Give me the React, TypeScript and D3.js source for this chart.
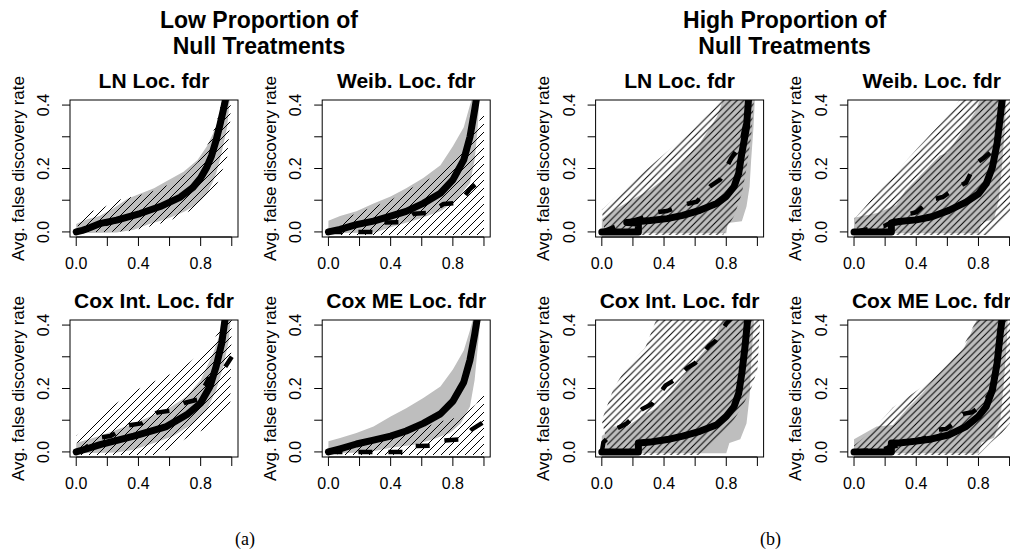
import React from 'react';
import * as d3 from 'd3';

type Pt = [number, number];

// ---------- text ----------
const groupTitles = [
  ['Low Proportion of', 'Null Treatments'],
  ['High Proportion of', 'Null Treatments'],
];
const groupCaptions = ['(a)', '(b)'];
const panelTitles = ['LN Loc. fdr', 'Weib. Loc. fdr', 'Cox Int. Loc. fdr', 'Cox ME Loc. fdr'];
const yAxisTitle = 'Avg. false discovery rate';
const xTicks = [0, 0.2, 0.4, 0.6, 0.8, 1.0];
const xTickLabels = ['0.0', '', '0.4', '', '0.8', ''];
const yTicks = [0, 0.1, 0.2, 0.3, 0.4];
const yTickLabels = ['0.0', '', '0.2', '', '0.4'];

// ---------- (a) low proportion ----------
const lnLowGrayHi: Pt[] = [[0, 0.025], [0.07, 0.04], [0.15, 0.05], [0.24, 0.075], [0.33, 0.105], [0.41, 0.12], [0.5, 0.138], [0.58, 0.16], [0.69, 0.19], [0.78, 0.227], [0.84, 0.27], [0.88, 0.31], [0.925, 0.365], [0.96, 0.43]];
const lnLowGrayLo: Pt[] = [[0, -0.004], [0.26, -0.002], [0.37, 0.007], [0.47, 0.025], [0.56, 0.038], [0.63, 0.05], [0.7, 0.065], [0.75, 0.08], [0.8, 0.1], [0.84, 0.12], [0.88, 0.16], [0.9, 0.185], [0.935, 0.25], [0.97, 0.33], [0.99, 0.43]];
const lnLowHatchHi: Pt[] = [[0.01, 0.03], [0.08, 0.065], [0.15, 0.07], [0.26, 0.1], [0.4, 0.115], [0.5, 0.13], [0.6, 0.15], [0.7, 0.18], [0.78, 0.22], [0.85, 0.28], [0.9, 0.34], [0.93, 0.4], [0.95, 0.43]];
const lnLowHatchLo: Pt[] = [[0.01, 0], [0.2, 0], [0.35, 0.003], [0.5, 0.02], [0.6, 0.035], [0.7, 0.06], [0.8, 0.08], [0.88, 0.12], [0.925, 0.175], [0.97, 0.235], [0.99, 0.35], [0.995, 0.43]];
const lnLowLine: Pt[] = [[0, 0], [0.04, 0.005], [0.07, 0.01], [0.15, 0.026], [0.26, 0.037], [0.41, 0.058], [0.54, 0.08], [0.67, 0.11], [0.75, 0.14], [0.8, 0.17], [0.84, 0.205], [0.87, 0.24], [0.9, 0.29], [0.925, 0.34], [0.946, 0.385], [0.965, 0.43]];
const lnLowDash: Pt[] = [[0, 0], [0.1, 0.013], [0.3, 0.041], [0.5, 0.072], [0.7, 0.118], [0.8, 0.168], [0.87, 0.238], [0.92, 0.33], [0.96, 0.43]];

const weibLowGrayHi: Pt[] = [[0, 0.035], [0.075, 0.05], [0.18, 0.065], [0.29, 0.09], [0.4, 0.112], [0.5, 0.138], [0.61, 0.17], [0.72, 0.21], [0.8, 0.27], [0.87, 0.33], [0.91, 0.4], [0.93, 0.43]];
const weibLowGrayLo: Pt[] = [[0, -0.004], [0.3, -0.002], [0.4, 0.015], [0.57, 0.039], [0.72, 0.065], [0.82, 0.1], [0.91, 0.154], [0.94, 0.227], [0.96, 0.33], [0.97, 0.43]];
const weibLowHatchHi: Pt[] = [[0.05, 0.01], [0.07, 0.03], [0.14, 0.05], [0.29, 0.08], [0.4, 0.1], [0.5, 0.13], [0.6, 0.155], [0.7, 0.18], [0.8, 0.22], [0.9, 0.28], [0.95, 0.33], [1.0, 0.38], [1.0, 0.43]];
const weibLowHatchLo: Pt[] = [[0.05, -0.01], [1.0, -0.01]];
const weibLowLine: Pt[] = [[0, 0], [0.075, 0.008], [0.18, 0.023], [0.29, 0.034], [0.4, 0.05], [0.5, 0.065], [0.61, 0.09], [0.72, 0.122], [0.8, 0.164], [0.87, 0.227], [0.91, 0.3], [0.94, 0.384], [0.955, 0.43]];
const weibLowDash: Pt[] = [[0, 0], [0.3, 0], [0.36, 0.03], [0.47, 0.031], [0.55, 0.057], [0.65, 0.06], [0.74, 0.088], [0.84, 0.092], [0.91, 0.135], [0.97, 0.16]];

const coxIntLowGrayHi: Pt[] = [[0, 0.028], [0.15, 0.05], [0.37, 0.09], [0.58, 0.133], [0.71, 0.175], [0.8, 0.227], [0.88, 0.31], [0.925, 0.374], [0.95, 0.43]];
const coxIntLowGrayLo: Pt[] = [[0, -0.004], [0.26, -0.002], [0.37, 0.007], [0.5, 0.028], [0.625, 0.05], [0.75, 0.09], [0.84, 0.133], [0.9, 0.196], [0.946, 0.27], [0.98, 0.35], [0.995, 0.43]];
const coxIntLowHatchHi: Pt[] = [[0, 0.05], [0.1, 0.09], [0.175, 0.122], [0.26, 0.154], [0.39, 0.196], [0.5, 0.222], [0.625, 0.25], [0.72, 0.28], [0.8, 0.31], [0.88, 0.35], [0.94, 0.4], [0.97, 0.43]];
const coxIntLowHatchLo: Pt[] = [[0.02, -0.01], [0.5, -0.01], [0.6, 0.01], [0.73, 0.05], [0.84, 0.075], [0.99, 0.143], [1.0, 0.43]];
const coxIntLowLine: Pt[] = [[0, 0], [0.07, 0.01], [0.154, 0.023], [0.37, 0.05], [0.58, 0.08], [0.71, 0.117], [0.8, 0.154], [0.86, 0.206], [0.9, 0.27], [0.935, 0.342], [0.96, 0.43]];
const coxIntLowDash: Pt[] = [[0, 0], [0.05, 0.01], [0.15, 0.045], [0.22, 0.05], [0.34, 0.084], [0.42, 0.09], [0.52, 0.124], [0.6, 0.13], [0.7, 0.155], [0.78, 0.165], [0.85, 0.23], [0.92, 0.24], [1.0, 0.3]];

const coxMeLowGrayHi: Pt[] = [[0, 0.034], [0.075, 0.044], [0.18, 0.06], [0.29, 0.08], [0.4, 0.112], [0.5, 0.138], [0.61, 0.17], [0.72, 0.206], [0.8, 0.26], [0.87, 0.32], [0.91, 0.384], [0.935, 0.43]];
const coxMeLowGrayLo: Pt[] = [[0, -0.004], [0.25, -0.002], [0.4, 0.013], [0.55, 0.023], [0.67, 0.039], [0.78, 0.06], [0.85, 0.09], [0.91, 0.143], [0.94, 0.227], [0.96, 0.33], [0.98, 0.43]];
const coxMeLowHatchHi: Pt[] = [[0.06, 0.0], [0.1, 0.012], [0.29, 0.03], [0.4, 0.045], [0.5, 0.055], [0.6, 0.075], [0.72, 0.096], [0.85, 0.112], [0.95, 0.15], [1.0, 0.19], [1.0, 0.24]];
const coxMeLowHatchLo: Pt[] = [[0.06, -0.01], [1.0, -0.01]];
const coxMeLowLine: Pt[] = [[0, 0], [0.075, 0.01], [0.18, 0.025], [0.29, 0.037], [0.4, 0.05], [0.5, 0.066], [0.61, 0.09], [0.72, 0.12], [0.8, 0.16], [0.87, 0.22], [0.91, 0.29], [0.94, 0.37], [0.96, 0.43]];
const coxMeLowDash: Pt[] = [[0, 0], [0.49, 0], [0.52, 0.018], [0.67, 0.02], [0.72, 0.035], [0.86, 0.04], [0.92, 0.07], [1.0, 0.095]];

// ---------- (b) high proportion ----------
const lnHighGrayHi: Pt[] = [[0, 0.04], [0.05, 0.06], [0.15, 0.09], [0.31, 0.133], [0.42, 0.175], [0.5, 0.21], [0.63, 0.28], [0.74, 0.363], [0.79, 0.43]];
const lnHighGrayLo: Pt[] = [[0, -0.004], [0.8, -0.004], [0.81, 0.028], [0.9, 0.034], [0.93, 0.08], [0.95, 0.143], [0.96, 0.227], [0.975, 0.33], [0.985, 0.43]];
const lnHighHatchHi: Pt[] = [[0, 0.07], [0.2, 0.16], [0.4, 0.245], [0.6, 0.33], [0.78, 0.43]];
const lnHighHatchLo: Pt[] = [[0.02, -0.01], [0.78, -0.01], [0.85, 0.05], [0.9, 0.12], [0.93, 0.2], [0.96, 0.3], [0.98, 0.43]];
const lnHighLine: Pt[] = [[0, 0], [0.235, 0], [0.235, 0.028], [0.16, 0.03], [0.31, 0.036], [0.42, 0.042], [0.52, 0.052], [0.63, 0.068], [0.74, 0.09], [0.8, 0.112], [0.85, 0.143], [0.88, 0.185], [0.9, 0.248], [0.93, 0.33], [0.945, 0.43]];
const lnHighDash: Pt[] = [[0, 0], [0.16, 0.03], [0.3, 0.05], [0.35, 0.062], [0.42, 0.066], [0.52, 0.085], [0.61, 0.095], [0.7, 0.145], [0.76, 0.165], [0.835, 0.235], [0.87, 0.26], [0.905, 0.3], [0.93, 0.36], [0.945, 0.43]];

const weibHighGrayHi: Pt[] = [[0, 0.045], [0.15, 0.06], [0.27, 0.085], [0.33, 0.13], [0.45, 0.19], [0.55, 0.24], [0.6, 0.25], [0.7, 0.32], [0.78, 0.38], [0.82, 0.43]];
const weibHighGrayLo: Pt[] = [[0, -0.004], [0.8, -0.004], [0.82, 0.03], [0.9, 0.04], [0.93, 0.1], [0.95, 0.2], [0.97, 0.33], [0.98, 0.43]];
const weibHighHatchHi: Pt[] = [[0, 0.04], [0.2, 0.15], [0.4, 0.26], [0.6, 0.365], [0.7, 0.43]];
const weibHighHatchLo: Pt[] = [[0.03, -0.01], [0.85, -0.01], [0.95, 0.03], [1.02, 0.08], [1.02, 0.43]];
const weibHighLine: Pt[] = [[0, 0], [0.24, 0], [0.24, 0.028], [0.29, 0.033], [0.4, 0.038], [0.5, 0.048], [0.61, 0.068], [0.72, 0.094], [0.8, 0.12], [0.85, 0.152], [0.89, 0.205], [0.92, 0.28], [0.94, 0.363], [0.955, 0.43]];
const weibHighDash: Pt[] = [[0, 0], [0.2, 0.02], [0.34, 0.055], [0.4, 0.062], [0.49, 0.1], [0.57, 0.11], [0.66, 0.14], [0.72, 0.155], [0.78, 0.215], [0.84, 0.235], [0.9, 0.26], [0.925, 0.3], [0.945, 0.37], [0.955, 0.43]];

const coxIntHighGrayHi: Pt[] = [[0, 0.05], [0.075, 0.08], [0.16, 0.08], [0.29, 0.122], [0.375, 0.143], [0.46, 0.196], [0.59, 0.28], [0.72, 0.353], [0.79, 0.43]];
const coxIntHighGrayLo: Pt[] = [[0, -0.004], [0.8, -0.004], [0.82, 0.028], [0.89, 0.04], [0.93, 0.09], [0.95, 0.175], [0.96, 0.28], [0.98, 0.43]];
const coxIntHighHatchHi: Pt[] = [[0, 0.1], [0.075, 0.2], [0.15, 0.26], [0.28, 0.33], [0.36, 0.43]];
const coxIntHighHatchLo: Pt[] = [[0.05, -0.01], [0.62, -0.01], [0.72, 0.03], [0.82, 0.08], [0.9, 0.14], [0.96, 0.2], [1.0, 0.26], [1.02, 0.43]];
const coxIntHighLine: Pt[] = [[0, 0], [0.235, 0], [0.235, 0.028], [0.31, 0.031], [0.42, 0.039], [0.52, 0.05], [0.63, 0.065], [0.74, 0.086], [0.8, 0.112], [0.85, 0.143], [0.88, 0.185], [0.9, 0.248], [0.92, 0.33], [0.94, 0.43]];
const coxIntHighDash: Pt[] = [[0, 0], [0.01, 0.03], [0.1, 0.075], [0.16, 0.09], [0.26, 0.135], [0.32, 0.15], [0.41, 0.21], [0.46, 0.225], [0.55, 0.265], [0.6, 0.28], [0.69, 0.335], [0.73, 0.35], [0.8, 0.405], [0.85, 0.43]];

const coxMeHighGrayHi: Pt[] = [[0, 0.04], [0.145, 0.08], [0.25, 0.085], [0.34, 0.135], [0.44, 0.185], [0.53, 0.238], [0.61, 0.28], [0.7, 0.32], [0.78, 0.405], [0.8, 0.43]];
const coxMeHighGrayLo: Pt[] = [[0, -0.004], [0.8, -0.004], [0.82, 0.03], [0.9, 0.045], [0.94, 0.1], [0.96, 0.2], [0.98, 0.33], [0.99, 0.43]];
const coxMeHighHatchHi: Pt[] = [[0, 0.02], [0.1, 0.06], [0.25, 0.14], [0.5, 0.227], [0.61, 0.28], [0.7, 0.33], [0.8, 0.43]];
const coxMeHighHatchLo: Pt[] = [[0.03, -0.01], [0.8, -0.01], [0.88, 0.03], [0.95, 0.06], [1.02, 0.1], [1.02, 0.43]];
const coxMeHighLine: Pt[] = [[0, 0], [0.24, 0], [0.24, 0.028], [0.29, 0.028], [0.4, 0.034], [0.5, 0.041], [0.61, 0.054], [0.72, 0.08], [0.8, 0.112], [0.85, 0.143], [0.89, 0.196], [0.92, 0.28], [0.94, 0.374], [0.955, 0.43]];
const coxMeHighDash: Pt[] = [[0, 0], [0.2, 0.01], [0.4, 0.036], [0.5, 0.05], [0.53, 0.07], [0.59, 0.072], [0.66, 0.095], [0.7, 0.12], [0.76, 0.125], [0.83, 0.15], [0.88, 0.19], [0.915, 0.28], [0.94, 0.37], [0.955, 0.43]];

type PanelData = { title: string; gHi: Pt[]; gLo: Pt[]; hHi: Pt[]; hLo: Pt[]; line: Pt[]; dash: Pt[] };

const lowPanels: PanelData[] = [
  { title: panelTitles[0], gHi: lnLowGrayHi, gLo: lnLowGrayLo, hHi: lnLowHatchHi, hLo: lnLowHatchLo, line: lnLowLine, dash: lnLowDash },
  { title: panelTitles[1], gHi: weibLowGrayHi, gLo: weibLowGrayLo, hHi: weibLowHatchHi, hLo: weibLowHatchLo, line: weibLowLine, dash: weibLowDash },
  { title: panelTitles[2], gHi: coxIntLowGrayHi, gLo: coxIntLowGrayLo, hHi: coxIntLowHatchHi, hLo: coxIntLowHatchLo, line: coxIntLowLine, dash: coxIntLowDash },
  { title: panelTitles[3], gHi: coxMeLowGrayHi, gLo: coxMeLowGrayLo, hHi: coxMeLowHatchHi, hLo: coxMeLowHatchLo, line: coxMeLowLine, dash: coxMeLowDash },
];
const highPanels: PanelData[] = [
  { title: panelTitles[0], gHi: lnHighGrayHi, gLo: lnHighGrayLo, hHi: lnHighHatchHi, hLo: lnHighHatchLo, line: lnHighLine, dash: lnHighDash },
  { title: panelTitles[1], gHi: weibHighGrayHi, gLo: weibHighGrayLo, hHi: weibHighHatchHi, hLo: weibHighHatchLo, line: weibHighLine, dash: weibHighDash },
  { title: panelTitles[2], gHi: coxIntHighGrayHi, gLo: coxIntHighGrayLo, hHi: coxIntHighHatchHi, hLo: coxIntHighHatchLo, line: coxIntHighLine, dash: coxIntHighDash },
  { title: panelTitles[3], gHi: coxMeHighGrayHi, gLo: coxMeHighGrayLo, hHi: coxMeHighHatchHi, hLo: coxMeHighHatchLo, line: coxMeHighLine, dash: coxMeHighDash },
];

// ---------- layout ----------
const W = 1010;
const H = 549;
const BOX_W = 168;
const BOX_H = 137;
const groupOffset = [0, 525.6];
const colLeft = [70, 322.2];
const rowTop = [100, 320];
const SANS = '"Liberation Sans", Arial, Helvetica, sans-serif';
const GRAY = '#bebebe';

function HatchPattern({ id, s }: { id: string; s: number }) {
  return (
    <pattern id={id} patternUnits="userSpaceOnUse" x={0} y={0} width={s} height={s}>
      <line x1={0} y1={s} x2={s} y2={0} stroke="#000" strokeWidth={1} />
      <line x1={-1} y1={1} x2={1} y2={-1} stroke="#000" strokeWidth={1} />
      <line x1={s - 1} y1={s + 1} x2={s + 1} y2={s - 1} stroke="#000" strokeWidth={1} />
    </pattern>
  );
}

function Panel({ d, left, top, id, patternId }: { d: PanelData; left: number; top: number; id: string; patternId: string }) {
  const x = d3.scaleLinear().domain([-0.04, 1.04]).range([left, left + BOX_W]);
  const y = d3.scaleLinear().domain([-0.016, 0.416]).range([top + BOX_H, top]);
  const line = d3.line<Pt>().x((p) => x(p[0])).y((p) => y(p[1]));
  const band = (hi: Pt[], lo: Pt[]) => (line(hi.concat(lo.slice().reverse())) || '') + 'Z';
  const bottom = top + BOX_H;
  return (
    <g>
      <defs>
        <clipPath id={`box-${id}`}>
          <rect x={left} y={top} width={BOX_W} height={BOX_H} />
        </clipPath>
      </defs>
      <g clipPath={`url(#box-${id})`}>
        <path d={band(d.gHi, d.gLo)} fill={GRAY} stroke="none" />
        <path d={band(d.hHi, d.hLo)} fill={`url(#${patternId})`} stroke="none" />
        <path d={line(d.line) || ''} fill="none" stroke="#000" strokeWidth={7} strokeLinecap="round" strokeLinejoin="round" />
        <path d={line(d.dash) || ''} fill="none" stroke="#000" strokeWidth={4.5} strokeDasharray="14 16" strokeLinecap="butt" strokeLinejoin="round" />
      </g>
      <rect x={left} y={top} width={BOX_W} height={BOX_H} fill="none" stroke="#000" strokeWidth={1} />
      <line x1={x(xTicks[0])} x2={x(xTicks[xTicks.length - 1])} y1={bottom} y2={bottom} stroke="#000" />
      {xTicks.map((t, i) => (
        <g key={`xt${i}`}>
          <line x1={x(t)} x2={x(t)} y1={bottom} y2={bottom + 9} stroke="#000" />
          {xTickLabels[i] && (
            <text x={x(t)} y={bottom + 31.5} textAnchor="middle" fontFamily={SANS} fontSize={16}>
              {xTickLabels[i]}
            </text>
          )}
        </g>
      ))}
      {yTicks.map((t, i) => (
        <g key={`yt${i}`}>
          <line x1={left - 8} x2={left} y1={y(t)} y2={y(t)} stroke="#000" />
          {yTickLabels[i] && (
            <text transform={`translate(${left - 21},${y(t)}) rotate(-90)`} textAnchor="middle" fontFamily={SANS} fontSize={16}>
              {yTickLabels[i]}
            </text>
          )}
        </g>
      ))}
      <text transform={`translate(${left - 46.5},${top + BOX_H / 2}) rotate(-90)`} textAnchor="middle" fontFamily={SANS} fontSize={17}>
        {yAxisTitle}
      </text>
      <text x={left + BOX_W / 2} y={top - 12} textAnchor="middle" fontFamily={SANS} fontSize={21} fontWeight="bold">
        {d.title}
      </text>
    </g>
  );
}

export default function App() {
  const groups = [lowPanels, highPanels];
  const spacings = [8, 6.7];
  return (
    <svg width={W} height={H} style={{ position: 'absolute', left: 0, top: 0, background: '#fff' }}>
      <defs>
        <HatchPattern id="hatch-a" s={spacings[0]} />
        <HatchPattern id="hatch-b" s={spacings[1]} />
      </defs>
      <rect x={0} y={0} width={W} height={H} fill="#fff" />
      {groups.map((panels, g) => (
        <g key={g}>
          {groupTitles[g].map((t, k) => (
            <text key={k} x={groupOffset[g] + 259} y={28 + k * 26} textAnchor="middle" fontFamily={SANS} fontSize={23} fontWeight="bold">
              {t}
            </text>
          ))}
          {panels.map((d, i) => (
            <Panel
              key={i}
              d={d}
              id={`${g}-${i}`}
              patternId={g === 0 ? 'hatch-a' : 'hatch-b'}
              left={groupOffset[g] + colLeft[i % 2]}
              top={rowTop[Math.floor(i / 2)]}
            />
          ))}
          <text x={groupOffset[g] + 245} y={545} textAnchor="middle" fontFamily='"Liberation Serif", "DejaVu Serif", serif' fontSize={18}>
            {groupCaptions[g]}
          </text>
        </g>
      ))}
    </svg>
  );
}
